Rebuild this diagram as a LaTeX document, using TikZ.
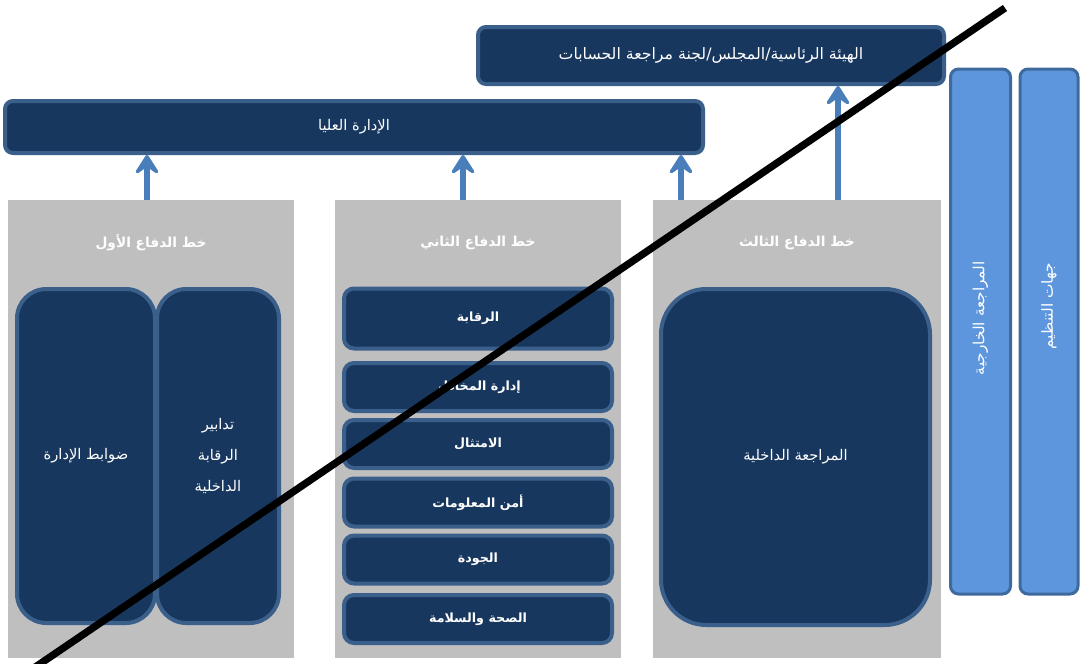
\documentclass[tikz,border=0pt]{standalone}
\usepackage{fontspec}
\newfontfamily\arabicfont[Script=Arabic]{DejaVu Sans}
\TeXXeTstate=1
\usepackage{tikz}
\usetikzlibrary{arrows.meta,positioning}

\definecolor{boxnavy}{RGB}{23,55,94}
\definecolor{boxedge}{RGB}{58,95,139}
\definecolor{arrowblue}{RGB}{74,126,187}
\definecolor{panelgray}{RGB}{191,191,191}
\definecolor{extblue}{RGB}{94,150,222}
\definecolor{extedge}{RGB}{62,106,158}

\newcommand{\artext}[1]{{\arabicfont\beginR #1\endR}}

\tikzset{
  navybox/.style={draw=boxedge, fill=boxnavy, line width=3pt, text=white, inner sep=0pt,
    font=\arabicfont\fontsize{11}{13}\selectfont},
  riskbox/.style={navybox, rounded corners=7.5pt, minimum width=201pt, minimum height=36pt,
    font=\arabicfont\bfseries\fontsize{9.5}{11}\selectfont},
  panel/.style={fill=panelgray, minimum width=214.5pt, minimum height=343.5pt, inner sep=0pt},
  paneltitle/.style={text=white, font=\arabicfont\bfseries\fontsize{10.3}{12}\selectfont},
  extbox/.style={draw=extedge, fill=extblue, line width=2.25pt, rounded corners=6pt,
    minimum width=45pt, minimum height=393.75pt, inner sep=0pt},
  exttext/.style={rotate=90, text=white, font=\arabicfont\fontsize{11.5}{13}\selectfont},
  uparrow/.style={draw=arrowblue, line width=4.5pt,
    -{Stealth[length=18pt,width=23pt,inset=8pt,round]}}
}

\begin{document}
\begin{tikzpicture}[x=0.75pt, y=-0.75pt]
  \useasboundingbox (0,0) rectangle (1082,664);

  \node[navybox, rounded corners=6pt, minimum width=349.5pt, minimum height=42.75pt,
    font=\arabicfont\fontsize{11.8}{13}\selectfont] (board) at (711,55.5)
    {\artext{الهيئة الرئاسية/المجلس/لجنة مراجعة الحسابات}};
  \node[navybox, rounded corners=6pt, minimum width=523.5pt, minimum height=39pt] (mgmt) at (354,127)
    {\artext{الإدارة العليا}};

  \node[panel] (line1) at (151,429) {};
  \node[panel] (line2) at (478,429) {};
  \node[panel, minimum width=216pt] (line3) at (797,429) {};

  \node[paneltitle] (title1) at (151,243) {\artext{خط الدفاع الأول}};
  \node[paneltitle] (title2) at (478,243) {\artext{خط الدفاع الثاني}};
  \node[paneltitle] (title3) at (797,243) {\artext{خط الدفاع الثالث}};

  \node[navybox, rounded corners=22pt, minimum width=103.5pt, minimum height=250.5pt] (mgmtctrl) at (86,456)
    {\artext{ضوابط الإدارة}};
  \node[navybox, rounded corners=22pt, minimum width=91.5pt, minimum height=250.5pt, align=center] (intctrl) at (218,456)
    {\artext{تدابير}\\[10.5pt]\artext{الرقابة}\\[10.5pt]\artext{الداخلية}};

  \node[riskbox, minimum height=45pt] (control) at (478,318.5) {\artext{الرقابة}};
  \node[riskbox] (risk) at (478,387) {\artext{إدارة المخاطر}};
  \node[riskbox] (compliance) at (478,444) {\artext{الامتثال}};
  \node[riskbox] (infosec) at (478,502.5) {\artext{أمن المعلومات}};
  \node[riskbox] (quality) at (478,559.5) {\artext{الجودة}};
  \node[riskbox] (safety) at (478,619) {\artext{الصحة والسلامة}};

  \node[navybox, rounded corners=34pt, minimum width=201.75pt, minimum height=252pt] (audit) at (795.5,457)
    {\artext{المراجعة الداخلية}};

  \node[extbox] (extaudit) at (980.5,331.5) {};
  \node[exttext] (extaudittext) at ([yshift=10pt]extaudit.center) {\artext{المراجعة الخارجية}};
  \node[extbox, minimum width=43.5pt] (regulators) at (1049,331.5) {};
  \node[exttext] (regulatorstext) at ([yshift=19pt]regulators.center) {\artext{جهات التنظيم}};

  \draw[uparrow] ([xshift=-3pt]line1.north) -- ([xshift=-3pt]line1.north |- mgmt.south);
  \draw[uparrow] ([xshift=-11.25pt]line2.north) -- ([xshift=-11.25pt]line2.north |- mgmt.south);
  \draw[uparrow] ([xshift=-87pt]line3.north) -- ([xshift=-87pt]line3.north |- mgmt.south);
  \draw[uparrow] ([xshift=30.75pt]line3.north) -- ([xshift=30.75pt]line3.north |- board.south);

  \draw[line width=5.5pt] (28,672) -- (1005,8);
\end{tikzpicture}
\end{document}
